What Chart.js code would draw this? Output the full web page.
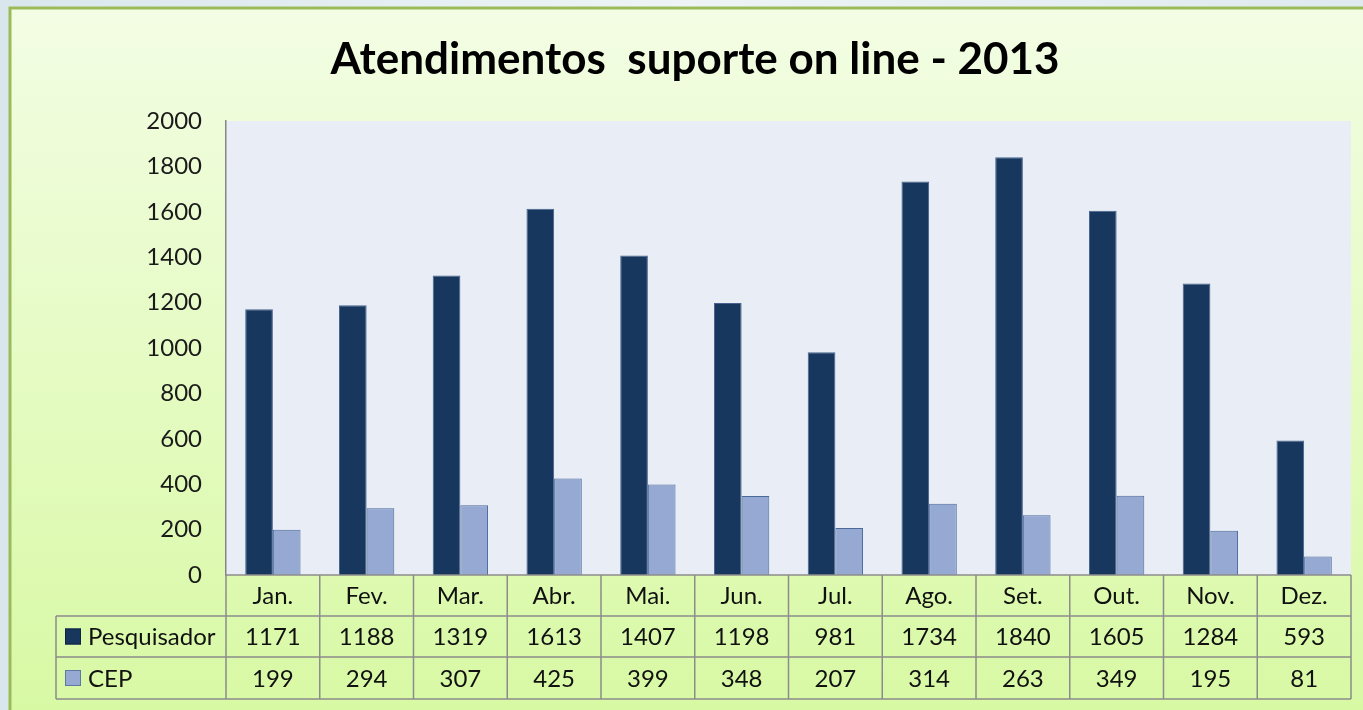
<!DOCTYPE html>
<html lang="pt">
<head>
  <meta charset="UTF-8">
  <title>Atendimentos suporte on line - 2013</title>
  <script src="https://cdn.jsdelivr.net/npm/chart.js"></script>
  <style>
    html, body { margin: 0; padding: 0; background: #e3edf0; }
    canvas { display: block; }
  </style>
</head>
<body>
  <canvas id="chart" width="1363" height="710"></canvas>
  <script>
    const meses = ['Jan.', 'Fev.', 'Mar.', 'Abr.', 'Mai.', 'Jun.', 'Jul.', 'Ago.', 'Set.', 'Out.', 'Nov.', 'Dez.'];
    const pesquisador = [1171, 1188, 1319, 1613, 1407, 1198, 981, 1734, 1840, 1605, 1284, 593];
    const cep = [199, 294, 307, 425, 399, 348, 207, 314, 263, 349, 195, 81];
    const series = ['Pesquisador', 'CEP'];
    const yMax = 2000, yStep = 200;

    const titulo = 'Atendimentos  suporte on line - 2013';
    const FONT = 'Lato, "Open Sans", sans-serif';
    const cores = ['#17375e', '#95a9d2'];
    const bordas = ['#46638f', '#4b6a9c'];

    // fundo, moldura, area do grafico e titulo
    const fundo = {
      id: 'fundo',
      beforeDraw(chart) {
        const { ctx, width, height, chartArea: a } = chart;
        ctx.save();
        const bg = ctx.createLinearGradient(0, 0, width, 0);
        bg.addColorStop(0, '#d9e7ec');
        bg.addColorStop(0.5, '#eef4f5');
        bg.addColorStop(1, '#dfeaee');
        ctx.fillStyle = bg;
        ctx.fillRect(0, 0, width, height);

        const g = ctx.createLinearGradient(0, 8, 0, height);
        g.addColorStop(0, '#f3fde4');
        g.addColorStop(1, '#d8f9a4');
        ctx.fillStyle = g;
        ctx.fillRect(10, 8, width, height);
        ctx.strokeStyle = '#9bbb59';
        ctx.lineWidth = 3;
        ctx.strokeRect(10, 8, width + 10, height + 10);

        ctx.fillStyle = '#e9edf5';
        ctx.fillRect(a.left, a.top, a.right - a.left, a.bottom - a.top);

        ctx.fillStyle = '#000';
        ctx.font = 'bold 44px ' + FONT;
        ctx.textAlign = 'center';
        ctx.textBaseline = 'middle';
        ctx.fillText(titulo, 695, 60);
        ctx.restore();
      }
    };

    // tabela de dados abaixo do eixo
    const tabela = {
      id: 'tabela',
      afterDraw(chart) {
        const { ctx, chartArea: a } = chart;
        const x = chart.scales.x;
        const catW = (a.right - a.left) / meses.length;
        const top = a.bottom;
        const rows = [top, top + 41, top + 82, top + 124];
        const leftCol = 56;
        const valores = [pesquisador, cep];

        ctx.save();
        ctx.strokeStyle = '#8c8c8c';
        ctx.lineWidth = 1.5;
        ctx.beginPath();
        // linhas horizontais
        ctx.moveTo(a.left, rows[0]); ctx.lineTo(a.right, rows[0]);
        for (let r = 1; r < rows.length; r++) {
          ctx.moveTo(leftCol, rows[r]); ctx.lineTo(a.right, rows[r]);
        }
        // linhas verticais
        ctx.moveTo(leftCol, rows[1]); ctx.lineTo(leftCol, rows[3]);
        for (let i = 0; i <= meses.length; i++) {
          const px = a.left + i * catW;
          ctx.moveTo(px, rows[0]); ctx.lineTo(px, rows[3]);
        }
        ctx.stroke();

        ctx.fillStyle = '#111';
        ctx.font = '24px ' + FONT;
        ctx.textAlign = 'center';
        ctx.textBaseline = 'middle';
        meses.forEach((m, i) => {
          const cx = x.getPixelForValue(i);
          ctx.fillText(m, cx, (rows[0] + rows[1]) / 2 + 1);
          valores.forEach((v, s) => {
            ctx.fillText(String(v[i]), cx, (rows[s + 1] + rows[s + 2]) / 2 + 1);
          });
        });

        // legenda na tabela
        series.forEach((nome, s) => {
          const cy = (rows[s + 1] + rows[s + 2]) / 2;
          ctx.fillStyle = cores[s];
          ctx.fillRect(65, cy - 8, 16, 16);
          ctx.strokeStyle = s === 0 ? '#0f2440' : '#5f77a3';
          ctx.lineWidth = 1;
          ctx.strokeRect(65.5, cy - 7.5, 15, 15);
          ctx.fillStyle = '#111';
          ctx.textAlign = 'left';
          ctx.fillText(nome, 88, cy + 1);
        });
        ctx.restore();
      }
    };

    new Chart(document.getElementById('chart'), {
      type: 'bar',
      data: {
        labels: meses,
        datasets: [
          { label: series[0], data: pesquisador, backgroundColor: cores[0], borderColor: bordas[0], borderWidth: 1 },
          { label: series[1], data: cep, backgroundColor: cores[1], borderColor: bordas[1], borderWidth: 1 }
        ]
      },
      options: {
        responsive: false,
        animation: false,
        layout: { padding: { left: 0, top: 121, right: 12, bottom: 135 } },
        datasets: { bar: { categoryPercentage: 0.59, barPercentage: 1 } },
        plugins: { legend: { display: false }, title: { display: false }, tooltip: { enabled: false } },
        scales: {
          x: { display: false },
          y: {
            min: 0,
            max: yMax,
            afterFit(scale) { scale.width = 226; },
            grid: { display: false, drawTicks: false },
            border: { display: true, color: '#868686', width: 1.5 },
            ticks: {
              stepSize: yStep,
              padding: 24,
              color: '#1a1a1a',
              font: { family: FONT, size: 24 },
              callback: (v) => String(v)
            }
          }
        }
      },
      plugins: [fundo, tabela]
    });
  </script>
</body>
</html>
